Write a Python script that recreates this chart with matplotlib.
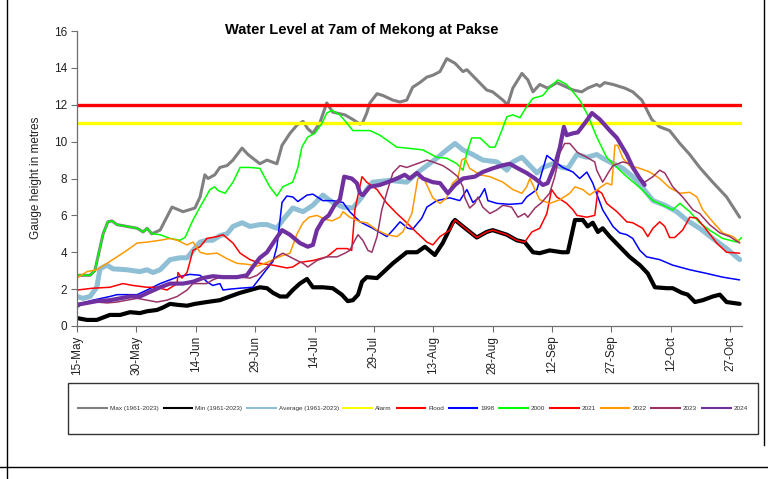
import matplotlib
matplotlib.use("Agg")
import matplotlib.pyplot as plt
from matplotlib.lines import Line2D
from matplotlib.patches import Rectangle

plt.rcParams['font.family'] = ['Liberation Sans', 'DejaVu Sans']

# ---- data (x = days after 15-May, y = gauge height in metres) ----
tick_days = [0, 15, 30, 45, 60, 75, 90, 105, 120, 135, 150, 165]
tick_labels = ["15-May", "30-May", "14-Jun", "29-Jun", "14-Jul", "29-Jul",
               "13-Aug", "28-Aug", "12-Sep", "27-Sep", "12-Oct", "27-Oct"]

alarm_level = 11.0
flood_level = 12.0

max_d = [0, 3.3, 4.5, 6.6, 7.8, 8.8, 10.1, 12.6, 15.2, 16.7, 17.7, 18.9, 21, 24, 26.8, 29.8, 31.1, 32.3,
         33.1, 34.8, 36.1, 37.9, 39.4, 41.7, 43.2, 46.2, 48, 50.5, 51.8, 53.8, 55.6, 57.1, 58.3, 59.6,
         61.4, 63.1, 64.6, 67.7, 69.7, 71.5, 72.2, 73.2, 74, 75.8, 77.3, 79.8, 81.6, 83.3, 84.8, 86.6,
         88.4, 89.9, 91.7, 93.4, 95.5, 97.5, 98.5, 101, 103.5, 105, 107.6, 108.8, 110.1, 112.4, 113.9,
         115.2, 116.9, 118.9, 121.2, 125.3, 127.5, 129, 131.3, 132.1, 133.3, 135.4, 138.4, 140.4,
         142.7, 145.2, 147.2, 149.7, 152.3, 154.8, 157.3, 160.6, 164.1, 167.4]
max_v = [2.75, 2.75, 3.0, 5.0, 5.65, 5.7, 5.5, 5.4, 5.3, 5.1, 5.3, 5.0, 5.2, 6.45, 6.2, 6.4, 7.0, 8.2,
         8.0, 8.2, 8.6, 8.7, 9.0, 9.65, 9.3, 8.8, 9.0, 8.8, 9.8, 10.45, 10.9, 11.1, 10.7, 10.45,
         11.05, 12.1, 11.6, 11.45, 11.2, 10.95, 11.05, 11.55, 12.1, 12.6, 12.5, 12.25, 12.15, 12.25, 12.95, 13.2,
         13.5, 13.6, 13.8, 14.5, 14.25, 13.8, 13.9, 13.35, 12.8, 12.7, 12.25, 12.0, 12.9, 13.7, 13.35,
         12.7, 13.1, 12.9, 13.2, 12.8, 12.7, 12.9, 13.1, 13.0, 13.2, 13.1, 12.9, 12.7,
         12.25, 11.2, 10.8, 10.6, 9.9, 9.3, 8.6, 7.8, 7.0, 5.9]

min_d = [0, 2.5, 5, 8.3, 10.9, 13.4, 15.9, 17.7, 20.2, 21.7, 23.5, 25.3, 27.8, 29.8, 32.8, 36.1, 38.6,
         41.2, 43.7, 46.2, 48, 49.5, 51.3, 53, 54.5, 56.3, 58.1, 59.6, 62.1, 64.6, 66.9, 68.4, 69.7,
         71, 72, 73.2, 75.8, 77.3, 79.8, 83.3, 85.9, 87.9, 90.4, 92.4, 94.9, 95.5, 97.5, 101, 103.5,
         105, 108.6, 111.1, 113.1, 115.2, 116.9, 119.4, 122.5, 124, 125.8, 127.8, 129, 130.3, 131.6,
         132.8, 134.6, 137.1, 139.6, 142.2, 144.2, 146, 149, 150.5, 152.8, 154.3, 156.1, 158.1, 160.6,
         162.4, 164.1, 167.4]
min_v = [0.43, 0.33, 0.33, 0.6, 0.6, 0.75, 0.7, 0.8, 0.87, 1.0, 1.2, 1.15, 1.1, 1.2, 1.3, 1.4, 1.6,
         1.8, 1.95, 2.1, 2.05, 1.8, 1.6, 1.6, 1.95, 2.3, 2.55, 2.1, 2.1, 2.05, 1.7, 1.35, 1.4,
         1.7, 2.4, 2.65, 2.6, 2.9, 3.4, 4.0, 4.0, 4.3, 3.85, 4.5, 5.6, 5.75, 5.4, 4.8, 5.1,
         5.2, 4.95, 4.65, 4.55, 4.0, 3.95, 4.1, 4.0, 4.0, 5.75, 5.75, 5.4, 5.6, 5.1,
         5.3, 4.85, 4.3, 3.75, 3.3, 2.85, 2.1, 2.05, 2.05, 1.8, 1.7, 1.3, 1.4, 1.6,
         1.7, 1.3, 1.2]

avg_d = [0, 1.5, 3.3, 5, 5.8, 7.6, 9.1, 12.6, 15.9, 17.7, 19.2, 21, 23.5, 26, 27.8, 29.3, 31.1, 32.8,
         34.3, 36.1, 37.9, 39.4, 41.7, 43.7, 46.2, 48, 50.5, 52, 54.5, 57.1, 59.6, 62.1, 64.6, 67.2,
         69.7, 72, 73.2, 74.7, 79, 83.3, 85.9, 88.4, 90.9, 93.4, 95.5, 97.5, 100, 102.5, 106.1, 108.6,
         110.1, 112.4, 114.4, 116.2, 117.7, 120.2, 122.5, 124, 126.3, 128.8, 131.3, 132.8, 134.6,
         137.9, 140.4, 142.9, 145.5, 148.5, 151.5, 154, 157.3, 160.6, 164.1, 167.4]
avg_v = [1.6, 1.5, 1.6, 2.1, 3.1, 3.3, 3.1, 3.05, 2.95, 3.05, 2.9, 3.05, 3.6, 3.7, 3.7, 4.1, 4.55, 4.65,
         4.65, 4.9, 5.0, 5.4, 5.6, 5.4, 5.5, 5.5, 5.3, 5.75, 6.4, 6.2, 6.55, 7.1, 6.7, 6.45,
         6.4, 7.0, 7.4, 7.8, 7.9, 7.8, 8.3, 8.7, 9.1, 9.55, 9.9, 9.55, 9.3, 9.0, 8.9, 8.45,
         8.9, 9.15, 8.7, 8.3, 8.6, 8.8, 8.6, 8.55, 9.3, 9.15, 9.3, 9.1, 8.9,
         8.55, 8.1, 7.5, 6.8, 6.55, 6.2, 5.75, 5.3, 4.75, 4.2, 3.6]

y1998_d = [0, 1.5, 4, 8.3, 10.1, 15.2, 17.7, 21, 25.3, 28.5, 31.1, 32.8, 34.3, 36.1, 36.9, 38.6, 41.2,
           44.4, 46.2, 48, 49.5, 50.5, 51.8, 53, 54.5, 55.8, 58.1, 59.6, 62.1, 64.6, 67.2, 68.9, 71.5,
           74.7, 78.3, 79.8, 81.6, 83.6, 84.8, 87.1, 88.4, 90.9, 94.2, 96.7, 98.5, 100, 101.8, 103,
           103.8, 106.1, 109.3, 112.4, 113.6, 116.2, 117.4, 118.7, 120.2, 122.7, 125.3, 127, 128.8,
           130.3, 132.8, 135.4, 137.1, 138.9, 140.4, 142.2, 143.9, 147.2, 150.5, 154.8, 159.1, 163.1, 167.4]
y1998_v = [1.0, 1.25, 1.4, 1.6, 1.7, 1.7, 1.95, 2.3, 2.65, 2.8, 2.75, 2.4, 2.2, 2.3, 1.95, 2.0, 2.05,
           2.1, 2.6, 3.1, 3.5, 4.3, 6.7, 7.05, 7.0, 6.75, 7.1, 7.15, 6.8, 6.8, 6.7, 6.2, 5.65,
           5.3, 4.85, 5.2, 5.65, 5.3, 5.25, 5.85, 6.45, 6.8, 6.95, 6.8, 7.4, 6.7, 7.0, 7.45,
           6.8, 6.65, 6.6, 6.65, 7.0, 7.4, 8.3, 9.25, 9.0, 8.6, 8.35, 8.0, 8.35,
           7.75, 6.3, 5.4, 5.05, 4.95, 4.75, 4.1, 3.75, 3.6, 3.3, 3.05, 2.85, 2.65, 2.5]

y2000_d = [0, 3.3, 4.5, 6.6, 7.8, 8.8, 10.1, 12.6, 15.2, 16.7, 17.7, 18.4, 19.2, 21, 23.5, 26, 27.3,
           29.3, 31.6, 33.6, 34.8, 35.6, 37.4, 39.4, 41.2, 43.7, 46.2, 48.7, 50.5, 52, 54.5, 55.8,
           56.8, 58.3, 60.1, 61.9, 63.1, 64.4, 66.4, 68.2, 69.7, 71.5, 74, 76.5, 80.8, 83.3, 87.4,
           90.9, 93.4, 96, 97.5, 98.5, 99.7, 101.8, 104.3, 105.6, 107.3, 108.6, 110.1, 111.9, 113.6,
           115.2, 117.7, 119.4, 121.5, 123.7, 125.3, 127, 129, 131.3, 133.8, 136.4, 138.9, 142.2,
           145.5, 149, 150.5, 152.3, 154.8, 157.3, 159.8, 163.1, 166.7, 167.9]
y2000_v = [2.75, 2.75, 3.0, 5.0, 5.65, 5.7, 5.5, 5.4, 5.3, 5.1, 5.3, 5.1, 5.0, 4.95, 4.75, 4.65, 4.8,
           5.75, 6.65, 7.4, 7.55, 7.35, 7.2, 7.8, 8.6, 8.6, 8.55, 7.55, 7.05, 7.55, 7.8, 8.6,
           9.7, 10.25, 10.45, 11.0, 11.55, 11.7, 11.45, 11.0, 10.6, 10.6, 10.6, 10.35, 9.7, 9.65, 9.55,
           9.15, 9.1, 8.8, 8.45, 9.4, 10.2, 10.2, 9.7, 9.7, 10.6, 11.35, 11.45, 11.3, 11.9,
           12.35, 12.5, 12.95, 13.35, 13.1, 12.7, 12.25, 11.45, 10.25, 9.15, 8.6, 8.1, 7.5,
           6.8, 6.45, 6.3, 6.65, 6.2, 5.6, 5.2, 4.75, 4.55, 4.8]

y2021_d = [0, 4, 8.3, 11.6, 14.1, 17.7, 20.2, 22.7, 25.3, 25.5, 26.5, 27.8, 29.3, 31.1, 32.8, 35.4,
           36.9, 39.4, 41.2, 43.7, 46.2, 49.5, 53, 54.5, 56.3, 59.6, 63.1, 65.7, 68.2, 69.4, 70.2, 72,
           73.2, 75.8, 78.3, 80.8, 83.3, 85.9, 88.4, 89.9, 91.7, 94.2, 95.5, 97.5, 101, 103.5, 105,
           108.6, 111.1, 113.1, 114.9, 116.9, 118.7, 119.9, 121.2, 123.7, 125.3, 126.3, 128.8, 130.8,
           131.6, 132.6, 133.8, 136.4, 138.9, 140.4, 142.9, 144.2, 145.5, 147.2, 148.5, 149.7, 151,
           153, 154.8, 156.6, 159.1, 161.6, 164.1, 167.4]
y2021_v = [1.95, 2.05, 2.1, 2.3, 2.2, 2.1, 2.1, 1.95, 2.3, 2.9, 2.6, 2.9, 4.1, 4.3, 4.75, 4.85,
           4.95, 4.5, 3.95, 3.6, 3.4, 3.3, 3.15, 3.2, 3.45, 3.55, 3.75, 4.2, 4.2, 4.1, 6.3, 8.1,
           7.8, 7.4, 6.65, 6.1, 5.6, 5.05, 4.55, 4.4, 4.85, 5.2, 5.75, 5.4, 4.8, 5.1, 5.2,
           4.95, 4.65, 4.55, 5.1, 5.3, 6.1, 7.4, 7.0, 6.65, 6.3, 6.0, 5.9, 6.0,
           7.35, 7.2, 6.65, 6.2, 5.65, 5.6, 5.3, 4.85, 5.3, 5.65, 5.4, 4.8, 4.8,
           5.2, 5.9, 5.85, 5.2, 4.5, 4.0, 3.95]

y2022_d = [0, 2.5, 5, 7.6, 10.1, 12.6, 15.2, 17.7, 21, 23.5, 25.3, 27.8, 29.3, 31.1, 32.8, 35.4, 37.9,
           40.4, 42.9, 45.5, 48, 51, 53.8, 55.6, 57.1, 58.6, 60.6, 62.6, 64.4, 66.4, 67.2, 68.9, 71.5,
           73.2, 75.8, 78.3, 80.8, 82.3, 84.6, 86.1, 87.4, 88.6, 89.9, 91.7, 93.4, 94.9, 96.2, 97.2,
           98, 99.2, 101.8, 104.3, 107.6, 110.1, 112.4, 113.6, 114.4, 115.7, 116.9, 119.4, 122,
           124.5, 125.8, 127.8, 129.5, 132.1, 133.8, 135.1, 135.9, 136.6, 137.9, 139.6, 142.2, 144.7,
           147.2, 149.7, 152.3, 154.8, 156.6, 158.1, 160.6, 163.1, 165.7, 167.4]
y2022_v = [2.6, 2.95, 3.05, 3.4, 3.75, 4.1, 4.5, 4.55, 4.65, 4.75, 4.65, 4.4, 4.55, 4.0, 3.9, 3.95, 3.65,
           3.4, 3.35, 3.25, 3.45, 3.75, 3.95, 5.0, 5.6, 5.9, 6.0, 5.8, 5.7, 5.9, 6.2, 5.9, 5.65,
           5.6, 5.2, 4.95, 4.85, 5.1, 6.1, 8.0, 8.1, 7.55, 6.95, 6.65, 6.95, 7.75, 8.0, 9.0,
           9.1, 8.55, 8.2, 8.1, 7.8, 7.4, 7.2, 7.55, 8.0, 7.4, 6.85, 6.65, 6.85,
           7.2, 7.55, 7.4, 7.1, 7.5, 7.75, 7.65, 9.8, 9.8, 9.1, 8.7, 8.55, 8.35,
           8.0, 7.5, 7.2, 7.25, 7.0, 6.3, 5.65, 5.05, 4.85, 4.55]

y2023_d = [0, 2.5, 5, 7.6, 10.1, 12.6, 15.2, 17.7, 20.2, 22.7, 25.3, 27.8, 29.3, 31.1, 32.8, 34.3,
           36.1, 38.6, 41.2, 43.7, 45.5, 48, 50, 52, 53.8, 55.6, 57.1, 58.3, 60.6, 63.1, 65.7, 67.7,
           68.9, 70.2, 71, 72.2, 73.5, 74.5, 75.8, 77, 78.5, 79.8, 81.6, 83.3, 85.9, 88.4, 89.9, 92.4,
           94.2, 96.2, 97.5, 98, 99.2, 100.5, 101.3, 102.5, 104.3, 106.1, 107.6, 109.8, 111.4, 113.1,
           113.9, 115.7, 117.4, 119.4, 120.7, 122, 123.2, 124.5, 126.5, 128.8, 130.8, 131.3, 132.8,
           134.6, 135.4, 137.9, 139.6, 141.7, 143.4, 145.5, 147.2, 148.5, 150.5, 153, 155.6, 157.3,
           159.8, 162.4, 164.9, 167.4]
y2023_v = [1.05, 1.3, 1.3, 1.25, 1.3, 1.4, 1.5, 1.4, 1.3, 1.4, 1.6, 1.95, 2.3, 2.3, 2.3, 2.5,
           2.65, 2.6, 2.65, 2.6, 2.75, 3.2, 3.7, 3.95, 3.75, 3.55, 3.4, 3.2, 3.55, 3.75, 3.75, 3.95,
           4.1, 4.65, 4.95, 4.65, 4.1, 4.0, 4.85, 6.3, 7.4, 8.3, 8.7, 8.6, 8.8, 9.0, 8.9, 8.7,
           8.45, 8.1, 7.55, 6.95, 6.4, 6.65, 7.0, 6.45, 6.1, 6.3, 6.55, 6.45, 5.9, 6.1,
           5.9, 6.4, 6.7, 7.2, 8.1, 9.4, 9.9, 9.9, 9.4, 9.15, 8.9, 8.45, 7.8,
           8.45, 8.7, 8.9, 8.8, 8.1, 7.8, 8.1, 8.45, 8.3, 7.55, 7.0, 6.3, 6.1,
           5.5, 5.05, 4.85, 4.5]

y2024_d = [0, 2.5, 5, 8.3, 10.9, 13.4, 15.9, 18.4, 21, 23.5, 26.8, 29.3, 31.8, 34.3, 36.9, 40.4, 42.9,
           44.4, 46.2, 48, 50, 51.8, 53.8, 56.3, 58.3, 59.6, 60.6, 62.1, 63.6, 65.2, 66.4, 67.5, 69.4,
           70.7, 71.5, 72.2, 74, 76.5, 78.5, 80.8, 82.8, 84.1, 85.9, 87.4, 89.9, 91.7, 93.7, 95.5,
           97.5, 100.5, 102.5, 105, 107.3, 109.3, 111.4, 113.6, 115.7, 117.7, 118.9, 120.7, 122, 123,
           123.7, 125.3, 126.5, 128.3, 130.1, 132.1, 134.6, 136.4, 138.9, 140.4, 142.2, 143.4]
y2024_v = [1.15, 1.25, 1.35, 1.4, 1.5, 1.6, 1.6, 1.85, 2.1, 2.3, 2.3, 2.4, 2.6, 2.7, 2.65, 2.65, 2.75,
           3.2, 3.7, 4.0, 4.65, 5.2, 4.95, 4.5, 4.3, 4.4, 5.2, 5.75, 6.0, 6.6, 6.85, 8.1, 8.0,
           7.75, 7.2, 7.1, 7.55, 7.65, 7.8, 8.0, 8.2, 8.0, 8.3, 8.0, 7.8, 7.75, 7.2, 7.65,
           8.0, 8.1, 8.35, 8.55, 8.7, 8.8, 8.55, 8.3, 8.0, 7.65, 7.75, 8.7, 9.7, 10.8,
           10.35, 10.45, 10.5, 11.0, 11.55, 11.2, 10.6, 10.2, 9.3, 8.6, 8.0, 7.65]

# ---- figure ----
W, H = 768, 479
fig = plt.figure(figsize=(W / 100, H / 100), dpi=100)
ax = fig.add_axes([77 / W, 1 - 326 / H, (742 - 77) / W, (326 - 31) / H])

x_end = 168.0
axis_col = '#6e6e6e'

series = [
    ("Max (1961-2023)", max_d, max_v, '#808080', 2.2),
    ("Min (1961-2023)", min_d, min_v, '#000000', 3.0),
    ("Average (1961-2023)", avg_d, avg_v, '#8fbfd4', 3.6),
]
for lab, d, v, c, lw in series:
    ax.plot(d, v, color=c, lw=lw, solid_joinstyle='round', solid_capstyle='round')

ax.plot([0, x_end], [alarm_level, alarm_level], color='#ffff00', lw=2.4)
ax.plot([0, x_end], [flood_level, flood_level], color='#ff0000', lw=2.4)

years = [
    ("1998", y1998_d, y1998_v, '#0000ff', 1.1),
    ("2000", y2000_d, y2000_v, '#00ff00', 1.1),
    ("2021", y2021_d, y2021_v, '#ff0000', 1.1),
    ("2022", y2022_d, y2022_v, '#ff9900', 1.1),
    ("2023", y2023_d, y2023_v, '#993366', 1.1),
    ("2024", y2024_d, y2024_v, '#7030a0', 3.0),
]
for lab, d, v, c, lw in years:
    ax.plot(d, v, color=c, lw=lw, solid_joinstyle='round', solid_capstyle='round')

ax.set_xlim(0, x_end)
ax.set_ylim(0, 16)
ax.set_yticks(range(0, 17, 2))
ax.set_xticks(tick_days)
ax.set_xticklabels(tick_labels, rotation=90, fontsize=8.5, color='#222222')
ax.tick_params(axis='y', labelsize=8.5, labelcolor='#222222', length=4, width=0.8, color=axis_col, pad=3)
ax.tick_params(axis='x', length=4, width=0.8, color=axis_col, pad=3)
for s in ['top', 'right']:
    ax.spines[s].set_visible(False)
for s in ['left', 'bottom']:
    ax.spines[s].set_color(axis_col)
    ax.spines[s].set_linewidth(0.9)
ax.patch.set_alpha(0)

fig.text(362 / W, 1 - 30 / H, "Water Level at 7am of Mekong at Pakse", ha='center', va='center',
         fontsize=10.5, fontweight='bold')
fig.text(36 / W, 1 - 178 / H, "Gauge height in metres", rotation=90, ha='center', va='center',
         fontsize=8.5, color='#222222')

# legend box
fig.patches.append(Rectangle((68 / W, 1 - 434 / H), (758 - 68) / W, (434 - 383) / H,
                             transform=fig.transFigure, fill=False, edgecolor='#333333', lw=1.0))

leg_labels = ["Max (1961-2023)", "Min (1961-2023)", "Average (1961-2023)", "Alarm", "Flood",
              "1998", "2000", "2021", "2022", "2023", "2024"]
leg_colors = ['#808080', '#000000', '#8fbfd4', '#ffff00', '#ff0000',
              '#0000ff', '#00ff00', '#ff0000', '#ff9900', '#993366', '#7030a0']
handles = [Line2D([0], [0], color=c, lw=1.5) for c in leg_colors]
fig.legend(handles, leg_labels, loc='center', bbox_to_anchor=(413 / W, 1 - 408 / H), ncol=11,
           frameon=False, fontsize=4.6, handlelength=4.5, handletextpad=0.45, columnspacing=0.75,
           labelcolor='#333333')

# outer frame lines
fig.add_artist(Line2D([7 / W, 7 / W], [0, 1], transform=fig.transFigure, color='black', lw=1.0))
fig.add_artist(Line2D([0, 1], [1 - 467 / H, 1 - 467 / H], transform=fig.transFigure, color='black', lw=1.0))
fig.add_artist(Line2D([764 / W, 764 / W], [1, 1 - 445 / H], transform=fig.transFigure, color='black', lw=1.0))

fig.savefig("out.png", dpi=100)
